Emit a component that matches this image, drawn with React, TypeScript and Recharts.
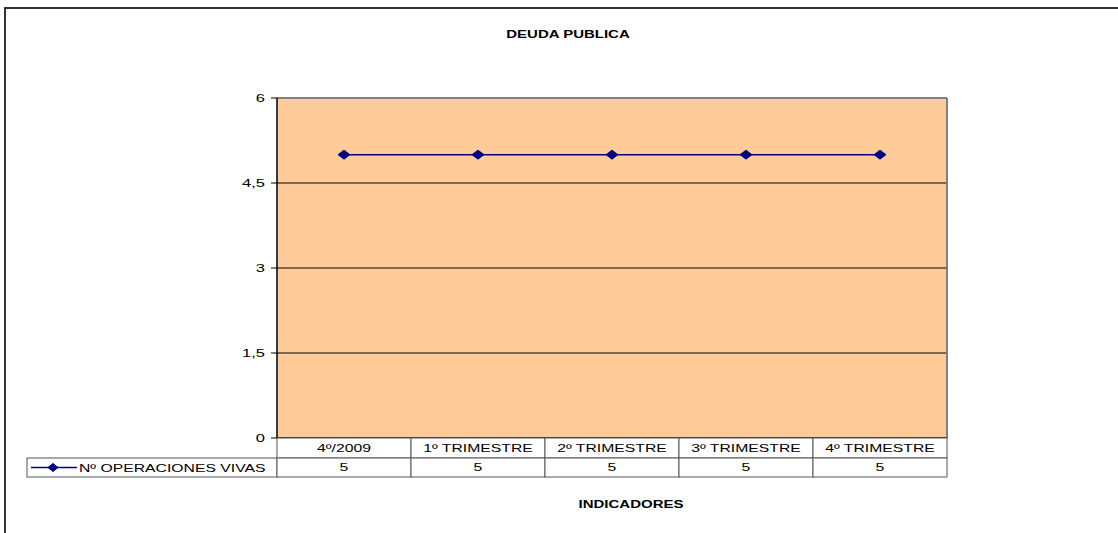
import { LineChart, Line, XAxis, YAxis, CartesianGrid, ReferenceLine, Customized } from 'recharts';

const categories = ['4º/2009', '1º TRIMESTRE', '2º TRIMESTRE', '3º TRIMESTRE', '4º TRIMESTRE'];
const opsVivas = [5, 5, 5, 5, 5];
const yTicks = [0, 1.5, 3, 4.5, 6];
const seriesName = 'Nº OPERACIONES VIVAS';

const FONT = '"Liberation Sans", Arial, sans-serif';
const SX = 1.5; // the source text is stretched horizontally
const NAVY = '#000080';
const CELL = 134;
const CELL_LINE = '#555';

const data = categories.map((c, i) => ({ cat: c, ops: opsVivas[i] }));

function fmtNum(v: number) {
  return String(v).replace('.', ',');
}

const Diamond = ({ cx, cy, hw = 6, hh = 4.5 }: any) => (
  <polygon
    points={`${cx - hw},${cy} ${cx},${cy - hh} ${cx + hw},${cy} ${cx},${cy + hh}`}
    fill={NAVY}
    stroke={NAVY}
  />
);

const YTick = ({ x, y, payload }: any) => (
  <text
    transform={`translate(${x},${y + 4}) scale(${SX},1)`}
    textAnchor="end"
    fontFamily={FONT}
    fontSize={11}
    fill="#000"
  >
    {fmtNum(payload.value)}
  </text>
);

const TableTick = ({ x, y, payload }: any) => {
  const i = categories.indexOf(payload.value);
  const left = x - CELL / 2;
  return (
    <g>
      <rect x={left} y={y} width={CELL} height={20} fill="#fff" stroke={CELL_LINE} strokeWidth={1} />
      <rect x={left} y={y + 20} width={CELL} height={19} fill="#fff" stroke={CELL_LINE} strokeWidth={1} />
      <text
        transform={`translate(${x},${y + 14}) scale(${SX},1)`}
        textAnchor="middle"
        fontFamily={FONT}
        fontSize={10.5}
        fill="#000"
      >
        {payload.value}
      </text>
      <text
        transform={`translate(${x},${y + 33}) scale(${SX},1)`}
        textAnchor="middle"
        fontFamily={FONT}
        fontSize={10.5}
        fill="#000"
      >
        {opsVivas[i]}
      </text>
    </g>
  );
};

const Decor = () => (
  <g>
    {/* outer frame, cut off at the right and bottom */}
    <path d="M5,540 L5,8 L1125,8" fill="none" stroke="#333" strokeWidth={2} />
    <text
      transform={`translate(568,38) scale(${SX},1)`}
      textAnchor="middle"
      fontFamily={FONT}
      fontSize={10}
      fontWeight="bold"
    >
      DEUDA PUBLICA
    </text>
    <text
      transform={`translate(631,508) scale(${SX},1)`}
      textAnchor="middle"
      fontFamily={FONT}
      fontSize={10}
      fontWeight="bold"
    >
      INDICADORES
    </text>
    {/* legend cell of the data table */}
    <rect x={27} y={458} width={250} height={19} fill="#fff" stroke={CELL_LINE} strokeWidth={1} />
    <line x1={31} y1={467.5} x2={77} y2={467.5} stroke={NAVY} strokeWidth={1.5} />
    <Diamond cx={53} cy={467.5} hw={5} hh={4} />
    <text
      transform={`translate(79,472) scale(${SX},1)`}
      fontFamily={FONT}
      fontSize={10.5}
      fill="#000"
    >
      {seriesName}
    </text>
  </g>
);

export default function App() {
  return (
    <div style={{ position: 'absolute', left: 0, top: 0, width: 1118, height: 533, background: '#fff', overflow: 'hidden' }}>
      <LineChart
        width={1118}
        height={533}
        data={data}
        margin={{ top: 98, right: 170, left: 217, bottom: 55 }}
      >
        <CartesianGrid
          yAxisId="l"
          vertical={false}
          horizontalValues={[1.5, 3, 4.5]}
          stroke="#000"
          strokeWidth={1}
          fill="#FFCC99"
          fillOpacity={1}
        />
        <XAxis
          dataKey="cat"
          height={40}
          padding={{ left: CELL / 2, right: CELL / 2 }}
          tickSize={0}
          tickMargin={0}
          tickLine={false}
          axisLine={{ stroke: '#000', strokeWidth: 1.5 }}
          tick={<TableTick />}
          interval={0}
        />
        <YAxis
          yAxisId="l"
          width={60}
          domain={[0, 6]}
          ticks={yTicks}
          tick={<YTick />}
          tickSize={6}
          tickMargin={6}
          tickLine={{ stroke: '#000' }}
          axisLine={{ stroke: '#000', strokeWidth: 1.5 }}
          interval={0}
        />
        <YAxis
          yAxisId="r"
          orientation="right"
          width={1}
          domain={[0, 6]}
          tick={false}
          tickLine={false}
          axisLine={{ stroke: '#808080', strokeWidth: 2 }}
        />
        <ReferenceLine yAxisId="l" y={6} stroke="#808080" strokeWidth={2} />
        <Line
          yAxisId="l"
          type="linear"
          dataKey="ops"
          name={seriesName}
          stroke={NAVY}
          strokeWidth={1.5}
          dot={<Diamond />}
          activeDot={false}
          isAnimationActive={false}
        />
        <Customized component={Decor} />
      </LineChart>
    </div>
  );
}
